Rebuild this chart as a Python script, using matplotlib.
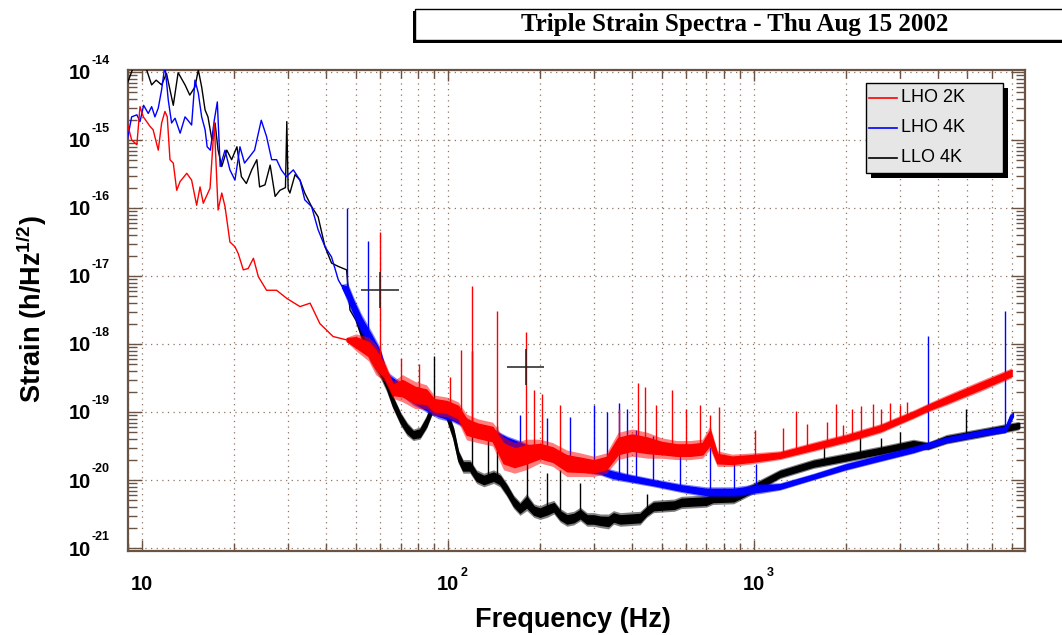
import numpy as np
import matplotlib
matplotlib.use("Agg")
import matplotlib.pyplot as plt
import matplotlib.ticker as mticker
from matplotlib.patches import Rectangle
from matplotlib.lines import Line2D

plt.rcParams['font.family'] = ['Liberation Sans', 'DejaVu Sans']
plt.rcParams['mathtext.fontset'] = 'custom'
plt.rcParams['mathtext.rm'] = 'Liberation Sans:bold'
plt.rcParams['mathtext.bf'] = 'Liberation Sans:bold'

# ---------------- data (frequency in Hz, strain as log10) ----------------
title = "Triple Strain Spectra - Thu Aug 15 2002"
xlabel = "Frequency (Hz)"
ylabel = r"Strain (h/Hz$^{\mathbf{1/2}}$)"
series_names = ["LHO 2K", "LHO 4K", "LLO 4K"]
series_colors = ["#ff0000", "#0000ff", "#000000"]

# LHO 2K
red_f = [8.93, 9.23, 9.6, 9.83, 10.08, 10.6, 10.85, 11.28, 11.57, 11.86, 12.07, 12.32, 12.63, 12.96,
         13.3, 13.98, 14.5, 15.06, 15.45, 15.83, 16.66, 17.2, 17.7, 18.2, 18.65, 19.35, 20.1, 20.6,
         21.4, 22.2, 23.1, 23.97, 25.5, 27.5, 29.7, 32.8, 35.4, 38.1, 42.1, 46.6]
red_log = [-14.75, -15.0, -15.07, -14.51, -14.66, -14.80, -14.85, -15.15, -14.75, -14.58, -14.66, -15.29,
           -15.34, -15.74, -15.61, -15.49, -15.59, -15.96, -15.69, -15.93, -15.71, -14.75, -16.03, -15.78,
           -15.98, -16.50, -16.57, -16.67, -16.91, -16.89, -16.74, -17.01, -17.21, -17.21, -17.33, -17.45,
           -17.40, -17.70, -17.89, -17.94]
red_band_f = [46.6, 50, 55, 58, 62, 66, 71, 78, 85, 90, 99, 108, 115, 125, 140, 152, 165, 180, 200, 220,
              245, 270, 300, 330, 360, 400, 450, 500, 560, 620, 680, 720, 760, 850, 1000, 1220, 1570, 2000,
              2600, 3330, 3720, 4270, 5500, 6980]
red_band_lo = [-17.97, -18.1, -18.25, -18.45, -18.55, -18.8, -18.85, -18.95, -18.95, -19.05, -19.07, -19.15,
               -19.41, -19.45, -19.5, -19.85, -19.9, -19.85, -19.75, -19.8, -19.95, -19.95, -19.95, -19.9,
               -19.7, -19.65, -19.68, -19.68, -19.7, -19.7, -19.68, -19.55, -19.8, -19.8, -19.76, -19.7,
               -19.58, -19.46, -19.31, -19.1, -19.0, -18.9, -18.7, -18.5]
red_band_hi = [-17.9, -17.85, -17.9, -18.0, -18.25, -18.55, -18.45, -18.55, -18.6, -18.75, -18.78, -18.85,
               -19.03, -19.1, -19.15, -19.37, -19.45, -19.4, -19.4, -19.45, -19.56, -19.6, -19.65, -19.6,
               -19.3, -19.25, -19.3, -19.38, -19.42, -19.42, -19.4, -19.2, -19.57, -19.62, -19.6, -19.57,
               -19.44, -19.32, -19.17, -18.97, -18.87, -18.75, -18.54, -18.35]
red_spike_f = [60, 70.3, 80.1, 101.5, 110, 119.5, 144.5, 180, 190.6, 202.9, 233, 362, 418, 440, 480, 540,
               600, 665, 720, 770, 1010, 1250, 1380, 1500, 1740, 1860, 1960, 2100, 2250, 2450, 2600, 2800,
               3000, 3170]
red_spike_top = [-16.35, -18.2, -18.3, -18.48, -18.09, -17.15, -17.52, -17.83, -18.68, -18.73, -18.9, -18.95,
                 -18.58, -18.63, -18.9, -18.68, -18.95, -18.9, -19.05, -18.93, -19.27, -19.24, -18.99, -19.18,
                 -19.14, -18.88, -19.19, -18.95, -18.91, -18.88, -18.95, -18.87, -18.9, -18.86]

# LHO 4K
blue_f = [8.93, 9.23, 9.6, 9.83, 10.1, 10.46, 10.73, 11.0, 11.28, 11.57, 11.86, 12.16, 12.47, 12.8, 13.3,
          13.8, 14.1, 14.5, 14.87, 15.25, 15.64, 16.05, 16.3, 16.7, 17.2, 17.6, 17.98, 18.65, 19.35, 20.1,
          20.87, 21.6, 22.4, 23.3, 24.5, 25.5, 26.5, 27.5, 28.5, 29.6, 31.2, 32.8, 34.0, 35.8, 37.6, 39.6,
          41.6, 43.8, 45]
blue_log = [-15.0, -14.66, -14.63, -14.73, -14.49, -14.61, -14.51, -14.66, -14.53, -14.26, -13.9, -14.41,
            -14.75, -14.68, -14.90, -14.66, -14.71, -14.78, -14.12, -14.31, -14.66, -14.85, -15.10, -15.15,
            -14.71, -14.44, -15.39, -15.15, -15.44, -15.59, -15.10, -15.34, -15.25, -15.15, -14.71, -14.95,
            -15.29, -15.29, -15.44, -15.54, -15.44, -15.59, -15.88, -15.98, -16.32, -16.57, -16.72, -17.06,
            -17.15]
blue_band_f = [45, 47, 49, 52, 56, 60, 63, 70, 77, 85, 93, 104, 115, 127, 141, 156, 172, 190, 211, 233,
               258, 285, 315, 348, 384, 470, 573, 700, 860, 1050, 1220, 1570, 2000, 2600, 3330, 4270, 5500,
               6660, 6900, 7050]
blue_band_lo = [-17.18, -17.4, -17.6, -17.85, -18.1, -18.35, -18.6, -18.75, -18.9, -19.0, -19.1, -19.15,
                -19.25, -19.35, -19.38, -19.5, -19.58, -19.65, -19.72, -19.77, -19.82, -19.9, -19.93, -20.0,
                -20.03, -20.1, -20.18, -20.25, -20.25, -20.2, -20.15, -20.0, -19.86, -19.73, -19.61, -19.46,
                -19.36, -19.31, -19.18, -19.08]
blue_band_hi = [-17.12, -17.1, -17.3, -17.55, -17.8, -18.05, -18.4, -18.55, -18.7, -18.85, -18.9, -19.0,
                -19.08, -19.2, -19.25, -19.35, -19.42, -19.5, -19.55, -19.6, -19.65, -19.75, -19.8, -19.85,
                -19.9, -19.98, -20.05, -20.1, -20.1, -20.05, -20.04, -19.9, -19.75, -19.62, -19.5, -19.36,
                -19.26, -19.2, -19.02, -19.0]
blue_spike_f = [46.6, 54.8, 172, 211, 250, 300, 331, 362, 384, 413, 470, 573, 720, 860, 1020, 3720, 6660]
blue_spike_top = [-16.0, -16.49, -19.04, -19.09, -19.07, -18.90, -19.0, -18.87, -18.96, -19.26, -19.36,
                  -19.51, -19.52, -19.71, -19.76, -17.88, -17.52]

# LLO 4K
black_f = [8.93, 9.35, 10.3, 10.73, 11.1, 11.57, 12.0, 12.63, 13.1, 13.8, 14.3, 14.87, 15.25, 15.64, 16.05,
           16.4, 16.9, 17.3, 17.7, 18.2, 18.9, 19.6, 20.4, 21.1, 21.9, 22.8, 23.7, 24.2, 25.2, 26.2, 27.2,
           28.2, 29.4, 29.7, 30.0, 30.4, 31.6, 32.8, 34.0, 35.8, 37.6, 39.6, 41.6, 43.8, 46.6, 47.8, 50]
black_log = [-14.17, -13.93, -13.95, -14.19, -14.12, -14.19, -14.02, -14.49, -14.01, -14.19, -14.34, -14.22,
             -13.97, -14.22, -14.56, -14.66, -15.0, -14.75, -15.15, -15.39, -15.15, -15.29, -15.10, -15.54,
             -15.64, -15.44, -15.29, -15.69, -15.66, -15.37, -15.83, -15.74, -15.7, -14.73, -15.72, -15.78,
             -15.51, -15.59, -15.78, -15.98, -16.13, -16.57, -16.81, -16.86, -16.91, -17.50, -17.65]
black_band_f = [50, 52, 55.5, 58, 60, 63, 66, 70, 73.5, 77, 81, 85, 88.5, 93, 99, 104, 108, 112, 118, 124,
                131, 141, 148, 156, 164, 172, 181, 191, 200, 211, 222, 233, 245, 258, 271, 285, 300, 315,
                335, 348, 366, 425, 447, 470, 550, 580, 700, 735, 860, 1000, 1220, 1570, 2000, 2600, 3330,
                3720, 4270, 5500, 7080, 7390]
black_band_lo = [-17.68, -17.95, -18.25, -18.4, -18.5, -18.7, -18.95, -19.2, -19.35, -19.42, -19.4, -19.25,
                 -19.05, -19.05, -19.12, -19.42, -19.75, -19.9, -19.9, -20.05, -20.1, -20.05, -20.1, -20.25,
                 -20.42, -20.52, -20.45, -20.55, -20.58, -20.55, -20.5, -20.62, -20.68, -20.66, -20.6, -20.68,
                 -20.68, -20.7, -20.72, -20.65, -20.68, -20.66, -20.55, -20.48, -20.46, -20.42, -20.4, -20.36,
                 -20.35, -20.2, -19.98, -19.83, -19.74, -19.64, -19.54, -19.56, -19.47, -19.38, -19.28, -19.26]
black_band_hi = [-17.62, -17.6, -17.95, -18.1, -18.2, -18.45, -18.75, -19.0, -19.15, -19.25, -19.22, -19.05,
                 -18.85, -18.85, -18.95, -19.2, -19.55, -19.7, -19.7, -19.85, -19.9, -19.85, -19.9, -20.05,
                 -20.22, -20.32, -20.2, -20.35, -20.38, -20.33, -20.3, -20.42, -20.48, -20.46, -20.4, -20.48,
                 -20.48, -20.5, -20.5, -20.45, -20.48, -20.46, -20.37, -20.3, -20.28, -20.24, -20.22, -20.18,
                 -20.17, -20.04, -19.84, -19.69, -19.6, -19.5, -19.4, -19.44, -19.33, -19.24, -19.15, -19.14]
black_spike_f = [89.7, 119.5, 135, 144.5, 181, 211, 233, 271, 447, 1700, 2230, 2600, 3000, 4950]
black_spike_top = [-18.17, -18.1, -19.41, -19.2, -19.56, -19.9, -19.85, -20.05, -20.2, -19.5, -19.3, -19.38,
                   -19.3, -18.95]

# cross markers
cross_f = [60, 180]
cross_f_lo = [51.9, 155.6]
cross_f_hi = [69.1, 206.5]
cross_h = [6.2e-18, 4.6e-19]
cross_h_lo = [3.4e-18, 2.5e-19]
cross_h_hi = [1.14e-17, 8.5e-19]

xlim = (8.98, 7720)
ylim = (10 ** -21.044, 10 ** -13.971)

# ---------------- figure ----------------
W, H = 1062, 635
fig = plt.figure(figsize=(W / 100, H / 100), dpi=100)


def fx(px):
    return px / W


def fy(py):
    return 1 - py / H


frame_c = "#6b5344"
grid_c = "#8f7565"

ax = fig.add_axes([fx(128), fy(551), fx(1025) - fx(128), fy(70) - fy(551)])
ax.set_xscale("log")
ax.set_yscale("log")
ax.set_xlim(*xlim)
ax.set_ylim(*ylim)

for sp in ax.spines.values():
    sp.set_color(frame_c)
    sp.set_linewidth(1.6)

ax.xaxis.set_major_locator(mticker.LogLocator(base=10, numticks=20))
ax.xaxis.set_minor_locator(mticker.LogLocator(base=10, subs=np.arange(2, 10), numticks=100))
ax.yaxis.set_major_locator(mticker.LogLocator(base=10, numticks=20))
ax.yaxis.set_minor_locator(mticker.LogLocator(base=10, subs=np.arange(2, 10), numticks=100))
ax.tick_params(which="both", direction="in", top=True, right=True, color=frame_c,
               labelbottom=False, labelleft=False, width=1.0)
ax.tick_params(axis="y", which="major", length=10)
ax.tick_params(axis="y", which="minor", length=6.5)
ax.tick_params(axis="x", which="major", length=8)
ax.tick_params(axis="x", which="minor", length=5.5)

dots = (0, (1, 3.5))
ax.grid(True, axis="y", which="major", color=grid_c, ls=dots, lw=0.9)
ax.grid(True, axis="x", which="both", color=grid_c, ls=dots, lw=0.9)
ax.set_axisbelow(True)

CORE = 0.6  # fraction of the noise envelope drawn fully opaque


def draw_series(f, lg, bf, blo, bhi, sf, stop, color):
    bf = np.array(bf)
    blo = np.array(blo)
    bhi = np.array(bhi)
    mid = (blo + bhi) / 2
    half = (bhi - blo) / 2
    ax.plot(f, 10.0 ** np.array(lg), color=color, lw=1.0, zorder=3)
    ax.fill_between(bf, 10.0 ** blo, 10.0 ** bhi, color=color, lw=0, alpha=0.5, zorder=3)
    ax.fill_between(bf, 10.0 ** (mid - CORE * half), 10.0 ** (mid + CORE * half), color=color,
                    lw=1.0, zorder=3)
    base = np.interp(np.log10(sf), np.log10(bf), mid)
    ax.vlines(sf, 10.0 ** base, 10.0 ** np.array(stop), color=color, lw=1.0, zorder=3)


draw_series(black_f, black_log, black_band_f, black_band_lo, black_band_hi,
            black_spike_f, black_spike_top, series_colors[2])
draw_series(blue_f, blue_log, blue_band_f, blue_band_lo, blue_band_hi,
            blue_spike_f, blue_spike_top, series_colors[1])
draw_series(red_f, red_log, red_band_f, red_band_lo, red_band_hi,
            red_spike_f, red_spike_top, series_colors[0])

# crosses
ax.hlines(cross_h, cross_f_lo, cross_f_hi, color="#222222", lw=1.4, alpha=0.8, zorder=4)
ax.vlines(cross_f, cross_h_lo, cross_h_hi, color="#222222", lw=1.4, alpha=0.8, zorder=4)

# ---------------- tick labels (ROOT style 10 + raised exponent) ----------------
for e in range(-21, -13):
    ax.annotate("10", xy=(fx(90.7), 10.0 ** e), xycoords=("figure fraction", "data"),
                xytext=(0, -2), textcoords="offset pixels", ha="right", va="center",
                fontsize=14.5, fontweight="bold", annotation_clip=False)
    ax.annotate(str(e), xy=(fx(91.5), 10.0 ** e), xycoords=("figure fraction", "data"),
                xytext=(0, 5), textcoords="offset pixels", ha="left", va="bottom",
                fontsize=9, fontweight="bold", annotation_clip=False)

for e in range(1, 4):
    ax.annotate("10", xy=(10.0 ** e, fy(585)), xycoords=("data", "figure fraction"),
                ha="center", va="center", fontsize=14.5, fontweight="bold", annotation_clip=False)
    if e > 1:
        ax.annotate(str(e), xy=(10.0 ** e, fy(579)), xycoords=("data", "figure fraction"),
                    xytext=(13, 0), textcoords="offset pixels", ha="left", va="bottom",
                    fontsize=9, fontweight="bold", annotation_clip=False)

fig.text(fx(573), fy(620), xlabel, ha="center", va="center", fontsize=19.5, fontweight="bold")
fig.text(fx(32), fy(309), ylabel, ha="center", va="center", rotation=90, fontsize=19.5,
         fontweight="bold")

# ---------------- title box ----------------
fig.patches.append(Rectangle((fx(413), fy(43)), fx(1080) - fx(413), fy(11) - fy(43),
                             transform=fig.transFigure, facecolor="black", edgecolor="none",
                             zorder=1))
fig.patches.append(Rectangle((fx(415), fy(40)), fx(1080) - fx(415), fy(9) - fy(40),
                             transform=fig.transFigure, facecolor="white", edgecolor="black",
                             lw=1.0, zorder=2))
fig.text(fx(735), fy(25), title, ha="center", va="center", fontsize=18, fontweight="bold",
         family="Liberation Serif", zorder=3)

# ---------------- legend ----------------
fig.patches.append(Rectangle((fx(871), fy(178)), fx(1008) - fx(871), fy(88) - fy(178),
                             transform=fig.transFigure, facecolor="black", edgecolor="none",
                             zorder=5))
fig.patches.append(Rectangle((fx(866), fy(173)), fx(1003) - fx(866), fy(83) - fy(173),
                             transform=fig.transFigure, facecolor="#e6e6e6", edgecolor="black",
                             lw=1.0, zorder=6))
for i, (name, col) in enumerate(zip(series_names, series_colors)):
    yy = 98 + 30 * i
    fig.lines.append(Line2D([fx(869), fx(897)], [fy(yy), fy(yy)], transform=fig.transFigure,
                            color=col, lw=1.2, zorder=7))
    fig.text(fx(901), fy(yy), name, ha="left", va="center", fontsize=13, zorder=7)

fig.savefig("out.png", dpi=100)
